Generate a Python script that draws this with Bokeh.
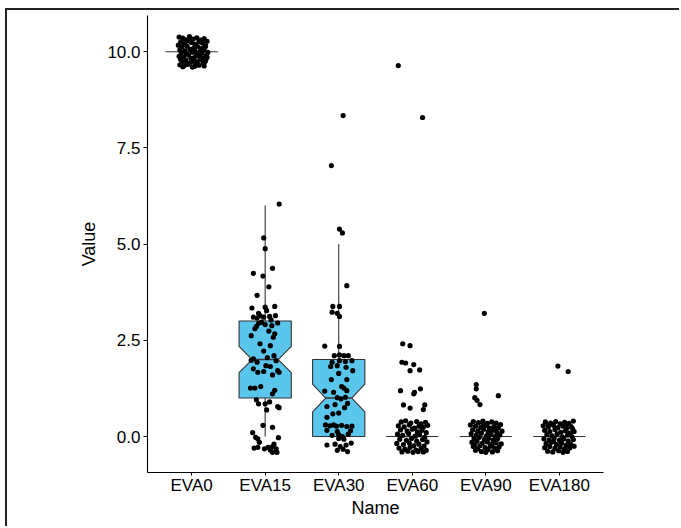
from bokeh.plotting import figure
from bokeh.models import Range1d, FixedTicker, PrintfTickFormatter
from bokeh.embed import file_html
from bokeh.resources import INLINE

# ---- data -------------------------------------------------------------
names = ["EVA0", "EVA15", "EVA30", "EVA60", "EVA90", "EVA180"]
positions = [1, 2, 3, 4, 5, 6]

q1 = [10, 1, 0, 0, 0, 0]
median = [10, 2, 1, 0, 0, 0]
q3 = [10, 3, 2, 0, 0, 0]
whisker_low = [10, 0, 0, 0, 0, 0]
whisker_high = [10, 6, 5, 0, 0, 0]
notch_low = [10, 1.66, 0.64, 0, 0, 0]
notch_high = [10, 2.34, 1.36, 0, 0, 0]

# jittered points (x offset from category centre, value)
pts_eva0 = [
    (-0.17, 10.38), (-0.12, 10.35), (-0.08, 10.31), (-0.03, 10.39), (0.02, 10.33), (0.07, 10.36),
    (0.12, 10.30), (0.17, 10.34), (0.21, 10.27), (-0.15, 10.25), (-0.10, 10.21), (-0.05, 10.28),
    (0.00, 10.24), (0.05, 10.19), (0.10, 10.26), (0.15, 10.22), (0.19, 10.15), (-0.18, 10.17),
    (-0.13, 10.12), (-0.06, 10.14), (0.03, 10.10), (0.08, 10.13), (0.13, 10.08), (0.18, 10.11),
    (-0.16, 10.05), (-0.09, 10.02), (-0.02, 10.06), (0.04, 10.03), (0.11, 10.00), (0.16, 10.04),
    (0.22, 9.98), (-0.14, 9.97), (-0.07, 9.94), (0.01, 9.99), (0.06, 9.92), (0.14, 9.96),
    (0.20, 9.90), (-0.17, 9.88), (-0.11, 9.86), (-0.04, 9.91), (0.03, 9.84), (0.09, 9.89),
    (0.15, 9.83), (0.21, 9.85), (-0.15, 9.80), (-0.08, 9.78), (-0.01, 9.82), (0.05, 9.76),
    (0.12, 9.79), (0.18, 9.74), (-0.13, 9.72), (-0.06, 9.70), (0.02, 9.75), (0.08, 9.68),
    (0.16, 9.71), (-0.16, 9.66), (-0.10, 9.64), (-0.03, 9.69), (0.04, 9.62), (0.10, 9.65),
    (0.17, 9.63), (-0.12, 9.61), (-0.05, 9.67), (0.01, 9.60), (0.07, 9.73), (0.13, 9.81),
    (0.19, 9.77), (-0.09, 10.18), (0.00, 10.29), (0.11, 9.93),
]
pts_eva15 = [
    (0.19, 6.04), (-0.02, 5.16), (0.00, 4.88), (-0.16, 4.24), (-0.03, 4.17), (0.10, 4.37),
    (0.05, 3.89), (-0.11, 3.67), (-0.18, 3.34), (0.00, 3.36), (0.13, 3.38), (0.14, 3.14),
    (-0.07, 3.14), (-0.16, 3.10), (-0.11, 3.08), (-0.02, 3.10), (0.06, 3.12), (-0.09, 2.94),
    (0.00, 2.91), (0.09, 2.88), (-0.12, 2.86), (0.05, 2.74), (0.13, 2.67), (0.11, 2.58),
    (-0.19, 2.62), (-0.07, 2.41), (0.07, 2.36), (0.12, 2.10), (-0.16, 2.02), (-0.11, 1.93),
    (0.15, 1.97), (0.01, 1.84), (0.07, 1.82), (-0.16, 1.76), (-0.10, 1.67), (-0.02, 1.69),
    (0.17, 1.71), (0.19, 1.67), (-0.20, 1.26), (-0.14, 1.26), (0.10, 1.11), (-0.09, 0.85),
    (0.00, 0.85), (0.17, 0.78), (0.02, 0.69), (-0.03, 0.29), (0.10, 0.24), (-0.13, -0.02),
    (-0.10, -0.06), (0.18, -0.03), (-0.10, -0.28), (-0.01, -0.32), (0.04, -0.28), (0.10, -0.26),
    (0.15, -0.32), (0.10, -0.41), (0.16, -0.41), (-0.05, 2.97), (0.08, 3.03), (-0.14, 2.80),
    (0.17, 2.95), (-0.02, 2.22), (0.03, 2.05), (-0.19, 1.98), (0.10, 1.60), (-0.06, 1.30),
    (0.13, 1.20), (-0.12, 0.95), (0.06, 0.90), (0.19, 0.75), (-0.17, 0.10), (-0.08, -0.15),
    (0.07, -0.35), (0.12, -0.20), (-0.15, -0.30), (0.02, 3.27), (-0.09, 3.20),
]
pts_eva30 = [
    (0.06, 8.34), (-0.10, 7.04), (0.01, 5.39), (0.05, 5.29), (0.11, 3.92), (-0.08, 3.38),
    (0.01, 3.38), (-0.09, 3.23), (-0.02, 3.20), (0.01, 3.12), (-0.19, 2.35), (0.01, 2.34),
    (-0.06, 2.10), (0.01, 2.12), (0.07, 2.10), (0.13, 2.10), (-0.09, 1.93), (0.01, 1.97),
    (0.09, 1.95), (0.18, 1.97), (-0.11, 1.82), (-0.02, 1.84), (0.10, 1.80), (0.00, 1.64),
    (0.19, 1.71), (-0.10, 1.48), (0.11, 1.48), (0.04, 1.30), (0.07, 1.26), (-0.19, 1.18),
    (-0.07, 1.15), (0.11, 1.19), (-0.02, 1.01), (0.03, 0.98), (0.09, 1.02), (-0.16, 0.78),
    (-0.05, 0.83), (0.12, 0.86), (0.08, 0.75), (-0.08, 0.59), (0.00, 0.61), (-0.16, 0.50),
    (-0.18, 0.30), (-0.12, 0.28), (-0.07, 0.30), (-0.03, 0.27), (0.04, 0.29), (0.11, 0.26),
    (0.18, 0.27), (-0.16, 0.16), (-0.02, 0.13), (0.16, 0.15), (-0.09, 0.03), (0.00, 0.05),
    (0.05, 0.00), (0.13, 0.06), (0.00, -0.05), (0.07, -0.07), (-0.16, -0.22), (-0.05, -0.20),
    (0.02, -0.26), (0.10, -0.22), (0.17, -0.17), (-0.02, -0.36), (0.06, -0.33), (0.12, -0.39),
]
pts_eva60 = [
    (-0.19, 9.64), (0.14, 8.29), (-0.13, 2.41), (-0.03, 2.36), (-0.14, 1.93), (-0.09, 1.91),
    (0.02, 1.87), (0.10, 1.73), (-0.03, 1.71), (-0.16, 1.19), (0.03, 1.15), (0.11, 1.24),
    (0.02, 1.11), (-0.12, 0.82), (-0.03, 0.74), (0.17, 0.82), (0.15, 0.70),
    (-0.15, 0.38), (-0.09, 0.41), (-0.02, 0.35), (0.06, 0.39), (0.12, 0.33), (0.18, 0.37),
    (-0.19, 0.28), (-0.11, 0.25), (-0.04, 0.30), (0.03, 0.22), (0.09, 0.27), (0.15, 0.24),
    (0.21, 0.29), (-0.16, 0.17), (-0.07, 0.14), (0.00, 0.19), (0.07, 0.12), (0.13, 0.16),
    (0.19, 0.10), (-0.20, 0.06), (-0.13, 0.03), (-0.05, 0.08), (0.04, 0.01), (0.10, 0.05),
    (0.17, -0.02), (-0.17, -0.07), (-0.08, -0.10), (-0.01, -0.05), (0.06, -0.12), (0.14, -0.08),
    (0.20, -0.14), (-0.21, -0.18), (-0.12, -0.21), (-0.04, -0.17), (0.02, -0.24), (0.09, -0.20),
    (0.16, -0.25), (-0.18, -0.30), (-0.10, -0.33), (-0.03, -0.28), (0.05, -0.35), (0.12, -0.31),
    (0.19, -0.36), (-0.14, -0.40), (-0.06, -0.38), (0.01, -0.41), (0.08, -0.39), (0.15, -0.40),
]
pts_eva90 = [
    (-0.02, 3.20), (-0.13, 1.35), (-0.13, 1.24), (-0.15, 1.01), (-0.12, 0.94), (-0.08, 0.83),
    (0.17, 1.06),
    (-0.17, 0.39), (-0.10, 0.36), (-0.04, 0.40), (0.02, 0.34), (0.08, 0.38), (0.14, 0.35),
    (0.20, 0.31), (-0.21, 0.30), (-0.14, 0.27), (-0.07, 0.24), (0.00, 0.29), (0.05, 0.22),
    (0.11, 0.26), (0.17, 0.23), (-0.18, 0.17), (-0.11, 0.14), (-0.03, 0.19), (0.03, 0.12),
    (0.09, 0.16), (0.15, 0.11), (0.22, 0.14), (-0.20, 0.07), (-0.13, 0.04), (-0.06, 0.09),
    (0.01, 0.02), (0.07, 0.06), (0.13, 0.00), (0.19, 0.04), (-0.16, -0.05), (-0.09, -0.02),
    (-0.02, -0.08), (0.04, -0.04), (0.10, -0.10), (0.16, -0.06), (-0.19, -0.15), (-0.12, -0.12),
    (-0.05, -0.18), (0.02, -0.14), (0.08, -0.20), (0.14, -0.16), (0.21, -0.19), (-0.17, -0.26),
    (-0.08, -0.24), (-0.01, -0.29), (0.06, -0.25), (0.12, -0.30), (0.18, -0.27), (-0.14, -0.36),
    (-0.06, -0.39), (0.03, -0.34), (0.09, -0.40), (0.16, -0.37), (-0.11, -0.32), (0.00, -0.41),
    (-0.03, 0.33), (0.12, 0.20), (-0.15, -0.21), (0.05, 0.08),
]
pts_eva180 = [
    (-0.02, 1.83), (0.12, 1.69),
    (-0.19, 0.38), (-0.12, 0.35), (-0.05, 0.39), (0.01, 0.33), (0.07, 0.37), (0.13, 0.34),
    (0.19, 0.40), (-0.22, 0.28), (-0.15, 0.25), (-0.08, 0.29), (-0.02, 0.23), (0.05, 0.27),
    (0.10, 0.21), (0.16, 0.26), (-0.20, 0.16), (-0.13, 0.13), (-0.06, 0.18), (0.02, 0.11),
    (0.08, 0.15), (0.14, 0.09), (0.20, 0.13), (-0.17, 0.05), (-0.10, 0.02), (-0.03, 0.07),
    (0.04, -0.01), (0.11, 0.04), (0.17, 0.00), (-0.21, -0.06), (-0.14, -0.09), (-0.07, -0.04),
    (0.00, -0.10), (0.06, -0.06), (0.12, -0.12), (0.19, -0.08), (-0.18, -0.18), (-0.11, -0.15),
    (-0.04, -0.21), (0.03, -0.17), (0.09, -0.23), (0.15, -0.19), (-0.20, -0.29), (-0.13, -0.26),
    (-0.06, -0.31), (0.01, -0.27), (0.07, -0.33), (0.14, -0.30), (0.20, -0.25), (-0.16, -0.38),
    (-0.09, -0.40), (-0.01, -0.37), (0.05, -0.41), (0.11, -0.39), (-0.15, 0.30), (0.18, 0.20),
    (-0.08, -0.12), (0.09, 0.32),
]
all_points = [pts_eva0, pts_eva15, pts_eva30, pts_eva60, pts_eva90, pts_eva180]

y_ticks = [0.0, 2.5, 5.0, 7.5, 10.0]

# ---- style ------------------------------------------------------------
BOX_HALF = 0.355
NOTCH_FRAC = 0.5
FILL = "#5BC6EC"
EDGE = "#333333"
FONT = "Liberation Sans"

p = figure(width=674, height=518, output_backend="svg", toolbar_location=None,
           x_range=Range1d(0.4, 6.6), y_range=Range1d(-0.935, 10.94),
           min_border_left=140, min_border_right=78, min_border_top=5, min_border_bottom=56)
p.styles = {"border-left": "2px solid #222222", "border-top": "2px solid #222222",
            "margin-left": "5px", "margin-top": "8px"}
p.outline_line_color = None
p.xgrid.visible = False
p.ygrid.visible = False
p.background_fill_color = "white"
p.border_fill_color = "white"

# whiskers
wx, wy0, wy1 = [], [], []
for c, lo, a, b, hi in zip(positions, whisker_low, q1, q3, whisker_high):
    wx += [c, c]
    wy0 += [a, b]
    wy1 += [lo, hi]
p.segment(x0=wx, y0=wy0, x1=wx, y1=wy1, line_color=EDGE, line_width=1.1)

# notched boxes
xs, ys = [], []
for c, a, nl, m, nh, b in zip(positions, q1, notch_low, median, notch_high, q3):
    w = BOX_HALF
    n = BOX_HALF * NOTCH_FRAC
    xs.append([c - w, c - w, c - n, c - w, c - w, c + w, c + w, c + n, c + w, c + w])
    ys.append([a, nl, m, nh, b, b, nh, m, nl, a])
p.patches(xs, ys, fill_color=FILL, line_color=EDGE, line_width=1.1)

# medians
p.segment(x0=[c - BOX_HALF * NOTCH_FRAC for c in positions], y0=median,
          x1=[c + BOX_HALF * NOTCH_FRAC for c in positions], y1=median,
          line_color=EDGE, line_width=1.4)

# jittered points
px, py = [], []
for c, pts in zip(positions, all_points):
    for dx, v in pts:
        px.append(c + dx)
        py.append(v)
p.scatter(px, py, size=5.2, fill_color="black", line_color=None)

# axes
for ax in (p.xaxis[0], p.yaxis[0]):
    ax.axis_line_color = "black"
    ax.axis_line_width = 1.1
    ax.major_tick_line_color = "black"
    ax.major_tick_out = 4
    ax.major_tick_in = 0
    ax.minor_tick_line_color = None
    ax.major_label_text_font = FONT
    ax.major_label_text_font_size = "17px"
    ax.major_label_text_color = "black"
    ax.axis_label_text_font = FONT
    ax.axis_label_text_font_size = "18px"
    ax.axis_label_text_font_style = "normal"
    ax.axis_label_text_color = "black"

p.xaxis.ticker = FixedTicker(ticks=positions)
p.xaxis.major_label_overrides = {c: n for c, n in zip(positions, names)}
p.xaxis.major_tick_out = 3
p.xaxis.major_label_standoff = 0
p.xaxis.axis_label = "Name"
p.xaxis.axis_label_standoff = 0

p.yaxis.ticker = FixedTicker(ticks=y_ticks)
p.yaxis.formatter = PrintfTickFormatter(format="%.1f")
p.yaxis.major_label_standoff = 3
p.yaxis.axis_label = "Value"
p.yaxis.axis_label_standoff = 5

open("out.html", "w").write(file_html(p, INLINE))
